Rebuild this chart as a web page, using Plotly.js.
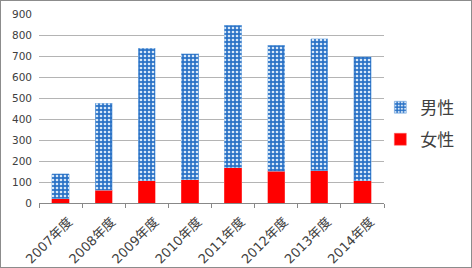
<!DOCTYPE html>
<html><head><meta charset="utf-8">
<script src="https://cdn.plot.ly/plotly-3.0.1.min.js"></script>
<style>
html,body{margin:0;padding:0;background:#fff;}
#chart{width:470px;height:266px;border:1px solid #8c8c8c;}
</style></head>
<body><div id="chart"></div>
<script>
const categories = ["2007年度","2008年度","2009年度","2010年度","2011年度","2012年度","2013年度","2014年度"];
const female = [20, 60, 105, 110, 168, 152, 154, 105];
const male = [120, 414, 631, 601, 678, 600, 628, 592];
const yTicks = [0,100,200,300,400,500,600,700,800,900];

const font = "DejaVu Sans, Noto Sans CJK JP, sans-serif";
const data = [
  {type:'bar', name:'女性', x:categories, y:female, legendgroup:'f', legendrank:2,
   marker:{color:'#ff0000', line:{color:'#ff6060', width:0.5}}},
  {type:'bar', name:'男性', x:categories, y:male, legendgroup:'m', legendrank:1,
   marker:{color:'#2a72c6', line:{color:'#8fbbe8', width:0.5},
     pattern:{shape:'.', fgcolor:'#d8e8f8', bgcolor:'#2a72c6', size:4, solidity:0.35}}}
];
const layout = {
  width:470, height:266, barmode:'stack', bargap:0.6,
  margin:{l:38.3, r:84.3, t:13, b:63.7},
  paper_bgcolor:'#fff', plot_bgcolor:'#fff',
  font:{family:font, color:'#404040'},
  xaxis:{type:'category', tickson:'boundaries', ticks:'outside', ticklen:4, tickcolor:'#888',
    showline:true, linecolor:'#888', linewidth:1, tickangle:-45,
    ticklabelshift:8, ticklabelstandoff:5,
    tickfont:{size:13, family:font, color:'#404040'}, showgrid:false},
  yaxis:{range:[0,900], tickvals:yTicks, showgrid:true, gridcolor:'#b4b4b4', gridwidth:1,
    zeroline:false, showline:false, ticks:'', ticklabelstandoff:6,
    tickfont:{size:10.5, family:font, color:'#404040'}},
  legend:{xanchor:'left', y:0.42, yanchor:'middle', xref:'paper', traceorder:'grouped',
    tracegroupgap:7, font:{size:17, family:"Noto Sans CJK JP, sans-serif", color:'#404040'}, bgcolor:'rgba(0,0,0,0)'},
  showlegend:true
};
layout.legend.x = 1 + (383 - 386.7)/347.4;
Plotly.newPlot('chart', data, layout, {displayModeBar:false, staticPlot:true});
</script></body></html>
